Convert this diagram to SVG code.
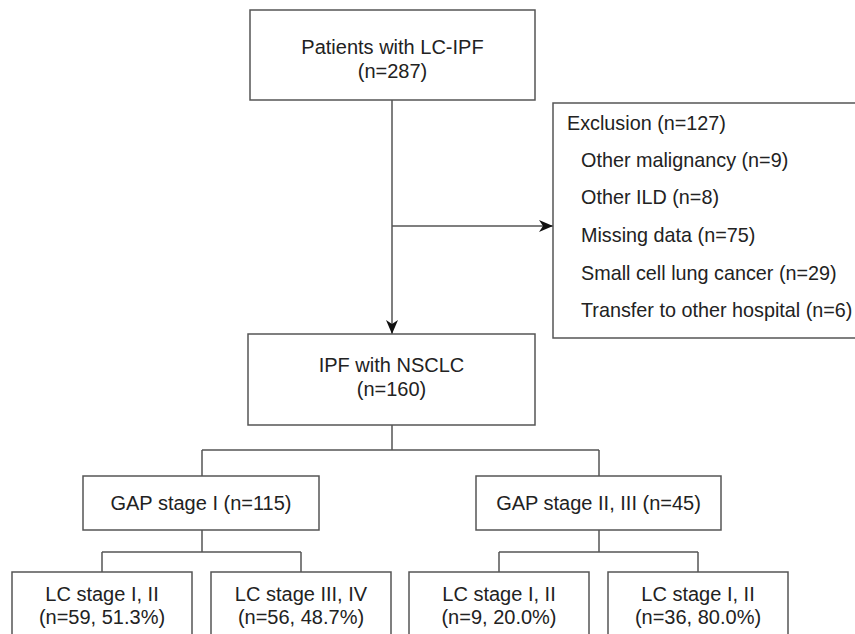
<svg xmlns="http://www.w3.org/2000/svg" width="855" height="634" viewBox="0 0 855 634">
<style>
.box{fill:#fff;stroke:#555;stroke-width:1.5}
.ln{fill:none;stroke:#555;stroke-width:1.5}
text{font-family:"Liberation Sans",Arial,sans-serif;font-size:20px;fill:#222}
.ex{font-size:19.8px}
.c{text-anchor:middle}
</style>
<defs>
<marker id="ah" viewBox="0 0 14 12" refX="14" refY="6" markerWidth="14" markerHeight="12" markerUnits="userSpaceOnUse" orient="auto">
<path d="M0,0 L14,6 L0,12 L4,6 Z" fill="#111"/>
</marker>
</defs>
<rect width="855" height="634" fill="#fff"/>
<g id="connectors">
<path class="ln" d="M392,100 V334" marker-end="url(#ah)"/>
<path class="ln" d="M392,226 H553" marker-end="url(#ah)"/>
<path class="ln" d="M392,425 V450 M202,450 H599 M202,450 V476 M599,450 V476"/>
<path class="ln" d="M202,530 V552 M102,552 H301 M102,552 V572 M301,552 V572"/>
<path class="ln" d="M599,530 V552 M499,552 H698 M499,552 V572 M698,552 V572"/>
</g>
<g id="n-patients">
<rect class="box" x="250" y="10" width="285" height="90"/>
<text class="c" x="392.5" y="54">Patients with LC-IPF</text>
<text class="c" x="392.5" y="78">(n=287)</text>
</g>
<g id="n-exclusion">
<rect class="box" x="553" y="103" width="320" height="235"/>
<text class="ex" x="567" y="130">Exclusion (n=127)</text>
<text class="ex" x="581" y="167">Other malignancy (n=9)</text>
<text class="ex" x="581" y="204">Other ILD (n=8)</text>
<text class="ex" x="581" y="242">Missing data (n=75)</text>
<text class="ex" x="581" y="280">Small cell lung cancer (n=29)</text>
<text class="ex" x="581" y="317">Transfer to other hospital (n=6)</text>
</g>
<g id="n-ipf">
<rect class="box" x="248" y="334" width="287" height="91"/>
<text class="c" x="391.5" y="372">IPF with NSCLC</text>
<text class="c" x="391.5" y="396">(n=160)</text>
</g>
<g id="n-gap1">
<rect class="box" x="83" y="476" width="236" height="54"/>
<text class="c" x="201" y="510">GAP stage I (n=115)</text>
</g>
<g id="n-gap23">
<rect class="box" x="476" y="476" width="245" height="54"/>
<text class="c" x="598.5" y="510">GAP stage II, III (n=45)</text>
</g>
<g id="n-lc1">
<rect class="box" x="12" y="572" width="180" height="80"/>
<text class="c" x="102" y="601">LC stage I, II</text>
<text class="c" x="102" y="624">(n=59, 51.3%)</text>
</g>
<g id="n-lc2">
<rect class="box" x="211" y="572" width="180" height="80"/>
<text class="c" x="301" y="601">LC stage III, IV</text>
<text class="c" x="301" y="624">(n=56, 48.7%)</text>
</g>
<g id="n-lc3">
<rect class="box" x="409" y="572" width="180" height="80"/>
<text class="c" x="499" y="601">LC stage I, II</text>
<text class="c" x="499" y="624">(n=9, 20.0%)</text>
</g>
<g id="n-lc4">
<rect class="box" x="608" y="572" width="180" height="80"/>
<text class="c" x="698" y="601">LC stage I, II</text>
<text class="c" x="698" y="624">(n=36, 80.0%)</text>
</g>
</svg>
